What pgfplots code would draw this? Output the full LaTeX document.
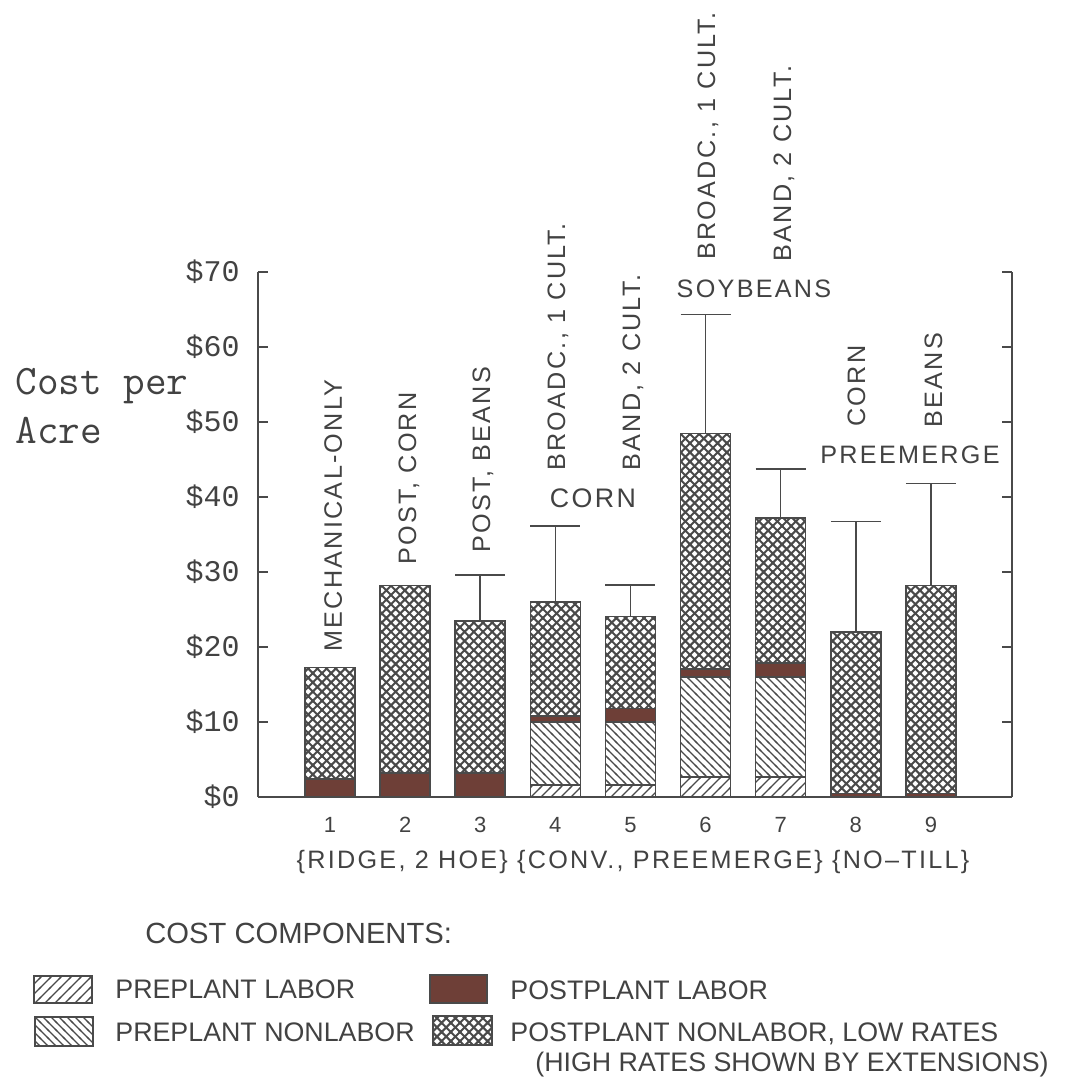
\documentclass[border=0pt]{standalone}
\usepackage{fontspec}
\usepackage{pgfplots}
\pgfplotsset{compat=1.18}
\usetikzlibrary{patterns}
\setmainfont{Liberation Sans}
\newfontfamily\lbl[LetterSpace=9]{Liberation Sans}
\newfontfamily\leg{Liberation Sans}
\newfontfamily\mono{Liberation Mono}
\definecolor{lc}{HTML}{4A4A4A}
\definecolor{tc}{HTML}{424242}
\definecolor{brn}{HTML}{6E3F37}

\pgfdeclarepatternformonly{hne}{\pgfqpoint{-1pt}{-1pt}}{\pgfqpoint{6pt}{6pt}}{\pgfqpoint{5pt}{5pt}}{%
  \pgfsetlinewidth{0.7pt}%
  \pgfpathmoveto{\pgfqpoint{-0.5pt}{-0.5pt}}\pgfpathlineto{\pgfqpoint{5.5pt}{5.5pt}}%
  \pgfusepath{stroke}}
\pgfdeclarepatternformonly{hnw}{\pgfqpoint{-1pt}{-1pt}}{\pgfqpoint{5pt}{5pt}}{\pgfqpoint{4pt}{4pt}}{%
  \pgfsetlinewidth{0.7pt}%
  \pgfpathmoveto{\pgfqpoint{-0.5pt}{4.5pt}}\pgfpathlineto{\pgfqpoint{4.5pt}{-0.5pt}}%
  \pgfusepath{stroke}}
\pgfdeclarepatternformonly{dcross}{\pgfqpoint{-1pt}{-1pt}}{\pgfqpoint{5.6pt}{5.6pt}}{\pgfqpoint{4.6pt}{4.6pt}}{%
  \pgfsetlinewidth{1pt}%
  \pgfpathmoveto{\pgfqpoint{-0.5pt}{-0.5pt}}\pgfpathlineto{\pgfqpoint{5.1pt}{5.1pt}}%
  \pgfpathmoveto{\pgfqpoint{-0.5pt}{5.1pt}}\pgfpathlineto{\pgfqpoint{5.1pt}{-0.5pt}}%
  \pgfusepath{stroke}}

\newcommand{\lblf}{\lbl\fontsize{12.6pt}{14pt}\selectfont}
\newcommand{\legf}{\leg\fontsize{13.4pt}{15pt}\selectfont}

\begin{document}
\begin{tikzpicture}
\begin{scope}[x=0.5pt,y=-0.5pt,shift={(-258,-797)}]
\useasboundingbox (0,0) rectangle (1088,1078);
\end{scope}

\begin{axis}[
  at={(0,0)}, anchor=south west, scale only axis,
  width=377pt, height=262.5pt,
  ybar stacked, bar width=25pt,
  xmin=0.041, xmax=10.08, ymin=0, ymax=70,
  axis x line*=bottom, axis y line*=box,
  axis line style={lc, line width=0.8pt},
  tick align=inside, major tick length=5pt,
  every tick/.style={lc, line width=0.8pt},
  ytick={0,10,...,70},
  yticklabels={\$0,\$10,\$20,\$30,\$40,\$50,\$60,\$70},
  ytick pos=both, yticklabel pos=left,
  yticklabel style={font=\mono\fontsize{15pt}{15pt}\selectfont, text=tc, inner sep=0pt, xshift=-9pt},
  xtick={1,...,9}, xticklabels={1,2,3,4,5,6,7,8,9},
  xtick style={draw=none},
  xticklabel style={font=\lbl\fontsize{11pt}{12pt}\selectfont, text=tc, inner sep=0pt, yshift=-10pt},
  clip=false,
]
% preplant labor
\addplot[draw=lc, line width=0.75pt, pattern=hne, pattern color=lc] coordinates
 {(1,0) (2,0) (3,0) (4,1.6) (5,1.6) (6,2.7) (7,2.7) (8,0) (9,0)};
% preplant nonlabor
\addplot[draw=lc, line width=0.75pt, pattern=hnw, pattern color=lc] coordinates
 {(1,0) (2,0) (3,0) (4,8.4) (5,8.4) (6,13.3) (7,13.3) (8,0) (9,0)};
% postplant labor
\addplot[draw=lc, line width=0.75pt, fill=brn] coordinates
 {(1,2.4) (2,3.2) (3,3.2) (4,0.8) (5,1.8) (6,1.1) (7,1.9) (8,0.5) (9,0.5)};
% postplant nonlabor, low rates
\addplot[draw=lc, line width=0.75pt, pattern=dcross, pattern color=lc] coordinates
 {(1,14.9) (2,25.0) (3,20.3) (4,15.2) (5,12.3) (6,31.4) (7,19.3) (8,21.5) (9,27.7)};
\end{axis}

\begin{axis}[
  at={(0,0)}, anchor=south west, scale only axis,
  width=377pt, height=262.5pt,
  xmin=0.041, xmax=10.08, ymin=0, ymax=70,
  hide axis, clip=false,
]
% high rates shown by extensions
\addplot[draw=none, mark=none, forget plot,
  error bars/.cd, y dir=plus, y explicit, error mark=|,
  error bar style={draw=lc, line width=0.75pt, solid},
  error mark options={draw=lc, line width=0.75pt, mark size=12.5pt}]
 coordinates {
 (3,23.5) +- (0,6.1)
 (4,26.0) +- (0,10.1)
 (5,24.1) +- (0,4.2)
 (6,48.5) +- (0,15.8)
 (7,37.2) +- (0,6.5)
 (8,22.0) +- (0,14.7)
 (9,28.2) +- (0,13.6)
 };
\end{axis}

\begin{scope}[x=0.5pt,y=-0.5pt,shift={(-258,-797)}, every node/.style={inner sep=0pt, text=tc}]
% y label
\node[anchor=base west, font=\ttfamily\fontsize{21pt}{21pt}\selectfont] at (15,395) {Cost per};
\node[anchor=base west, font=\ttfamily\fontsize{21pt}{21pt}\selectfont] at (15,443) {Acre};
% rotated labels
\node[rotate=90, anchor=base west, font=\lblf] at (342,652) {MECHANICAL-ONLY};
\node[rotate=90, anchor=base west, font=\lblf] at (416,565) {POST, CORN};
\node[rotate=90, anchor=base west, font=\lblf] at (490,553) {POST, BEANS};
\node[rotate=90, anchor=base west, font=\lblf] at (565,471) {BROADC., 1 CULT.};
\node[rotate=90, anchor=base west, font=\lblf] at (640,471) {BAND, 2 CULT.};
\node[rotate=90, anchor=base west, font=\lblf] at (715,260) {BROADC., 1 CULT.};
\node[rotate=90, anchor=base west, font=\lblf] at (791,262) {BAND, 2 CULT.};
\node[rotate=90, anchor=base west, font=\lblf] at (865,427) {CORN};
\node[rotate=90, anchor=base west, font=\lblf] at (942,428) {BEANS};
% horizontal group labels
\node[anchor=base, font=\lbl\fontsize{13.4pt}{15pt}\selectfont] at (593,507) {CORN};
\node[anchor=base, font=\lblf] at (754,297) {SOYBEANS};
\node[anchor=base, font=\lblf] at (910,463) {PREEMERGE};
% group line below ticks
\node[anchor=base, font=\lblf] at (633,868) {\{RIDGE, 2 HOE\} \{CONV., PREEMERGE\} \{NO–TILL\}};
% legend
\node[anchor=base west, font=\leg\fontsize{14.6pt}{16pt}\selectfont] at (145,943) {COST COMPONENTS:};
\draw[lc, line width=0.75pt, pattern=hne, pattern color=lc] (34,976) rectangle (92,1003);
\draw[lc, line width=0.75pt, pattern=hnw, pattern color=lc] (35,1017) rectangle (93,1046);
\draw[lc, line width=0.75pt, fill=brn] (430,975) rectangle (487,1003);
\draw[lc, line width=0.75pt, pattern=dcross, pattern color=lc] (433,1016) rectangle (492,1045);
\node[anchor=base west, font=\legf] at (115,998) {PREPLANT LABOR};
\node[anchor=base west, font=\legf] at (115,1041) {PREPLANT NONLABOR};
\node[anchor=base west, font=\legf] at (510,999) {POSTPLANT LABOR};
\node[anchor=base west, font=\legf] at (510,1041) {POSTPLANT NONLABOR, LOW RATES};
\node[anchor=base west, font=\legf] at (535,1071) {(HIGH RATES SHOWN BY EXTENSIONS)};
\end{scope}
\end{tikzpicture}
\end{document}
